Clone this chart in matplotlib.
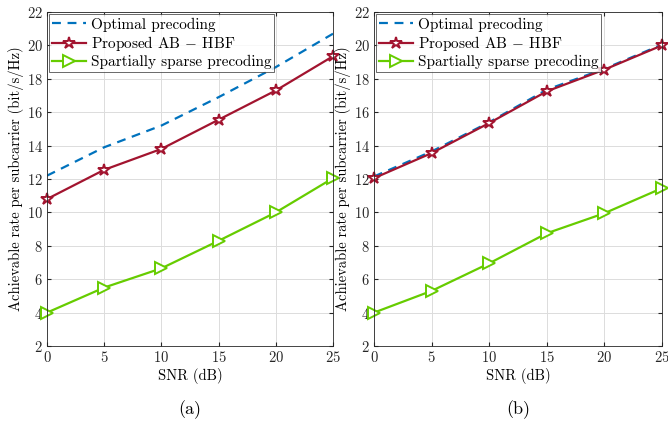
import matplotlib
matplotlib.use("Agg")
import matplotlib.pyplot as plt

plt.rcParams['font.family'] = ['cmr10', 'DejaVu Serif']
plt.rcParams['mathtext.fontset'] = 'cm'
plt.rcParams['axes.formatter.use_mathtext'] = True

snr = [0, 5, 10, 15, 20, 25]

opt_a = [12.2, 13.9, 15.2, 16.9, 18.7, 20.7]
prop_a = [10.8, 12.55, 13.8, 15.55, 17.3, 19.35]
sparse_a = [4.0, 5.5, 6.65, 8.3, 10.0, 12.05]

opt_b = [12.15, 13.65, 15.4, 17.35, 18.6, 20.05]
prop_b = [12.05, 13.55, 15.35, 17.25, 18.55, 20.0]
sparse_b = [4.0, 5.3, 6.95, 8.75, 9.95, 11.45]

labels = ["Optimal precoding", "Proposed AB $-$ HBF", "Spartially sparse precoding"]
xticks = [0, 5, 10, 15, 20, 25]
yticks = [2, 4, 6, 8, 10, 12, 14, 16, 18, 20, 22]

c_opt = '#0072BD'
c_prop = '#A2142F'
c_sp = '#66CC00'

fig = plt.figure(figsize=(6.68, 4.22), dpi=100)
axA = fig.add_axes([47/668, 76/422, 286/668, 334/422])
axB = fig.add_axes([374/668, 76/422, 288/668, 334/422])

for ax, opt, prop, sp, tag in [(axA, opt_a, prop_a, sparse_a, "(a)"),
                               (axB, opt_b, prop_b, sparse_b, "(b)")]:
    ax.plot(snr, opt, '--', color=c_opt, lw=1.6, dashes=(4, 3), label=labels[0])
    ax.plot(snr, prop, '-', color=c_prop, lw=1.6, marker='*', ms=9,
            mfc='white', mec=c_prop, mew=1.4, label=labels[1], clip_on=False)
    ax.plot(snr, sp, '-', color=c_sp, lw=1.6, marker='>', ms=8,
            mfc='white', mec=c_sp, mew=1.4, label=labels[2], clip_on=False)
    ax.set_xlim(0, 25)
    ax.set_ylim(2, 22)
    ax.set_xticks(xticks)
    ax.set_yticks(yticks)
    ax.grid(True, color='#dcdcdc', lw=0.7)
    ax.set_axisbelow(True)
    for s in ax.spines.values():
        s.set_color('#262626')
        s.set_linewidth(0.6)
    ax.tick_params(direction='in', length=3, labelsize=10.5, colors='#262626',
                   top=True, right=True, pad=3)
    ax.set_xlabel("SNR (dB)", fontsize=10.5, labelpad=2)
    ax.set_ylabel("Achievable rate per subcarrier (bit/s/Hz)", fontsize=10.5, labelpad=2)
    ax.text(0.5, -0.19, tag, transform=ax.transAxes, ha='center', va='center', fontsize=13)
    leg = ax.legend(loc='upper left', fontsize=11, frameon=True, fancybox=False,
                    borderpad=0.2, labelspacing=0.15, handlelength=2.2,
                    handletextpad=0.3, borderaxespad=0.15, edgecolor='#262626')
    leg.get_frame().set_linewidth(0.6)

fig.savefig("out.png", dpi=100)
